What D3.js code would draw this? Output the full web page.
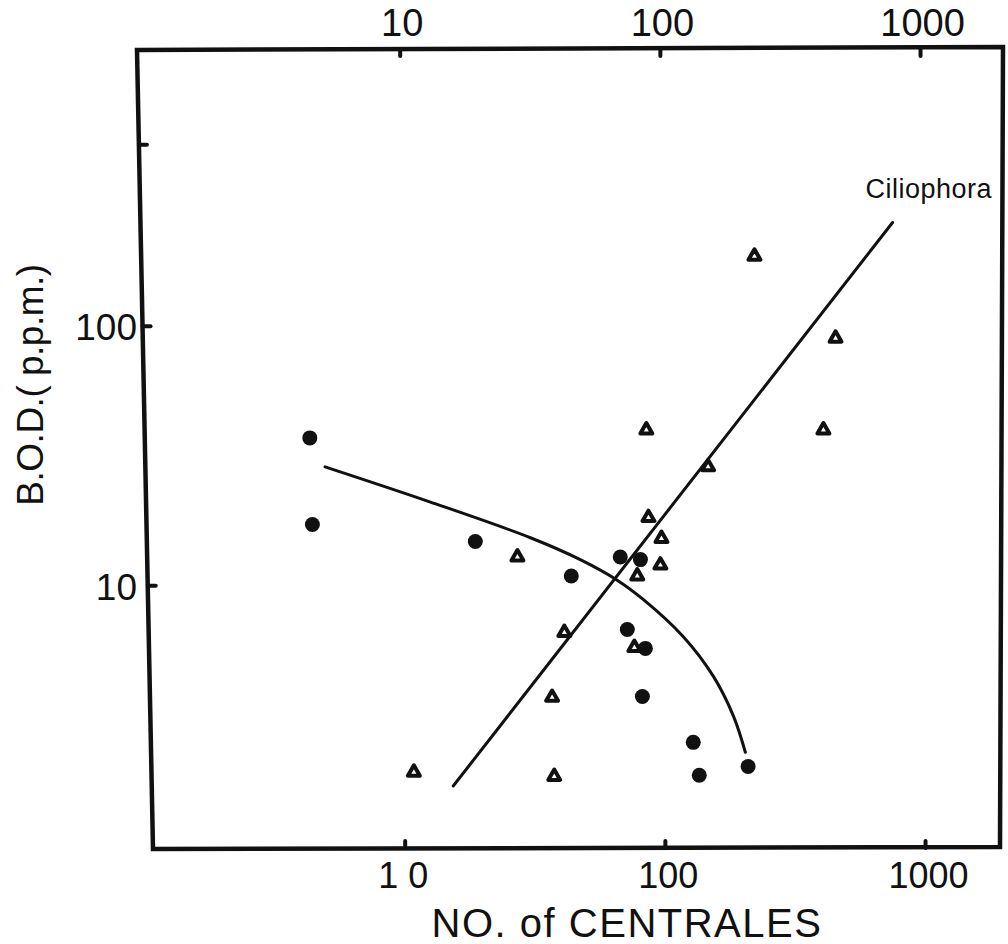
<!DOCTYPE html>
<html>
<head>
<meta charset="utf-8">
<script src="https://cdn.jsdelivr.net/npm/d3@7"></script>
<style>
  html, body { margin: 0; padding: 0; background: #fff; }
  svg text { font-family: "Liberation Sans", Arial, sans-serif; fill: #111; }
</style>
</head>
<body>
<svg id="chart" width="1008" height="944"></svg>
<script>
// Centrales (filled circles): count vs B.O.D.
const centralesCount = [4.3, 4.4, 18.6, 43.5, 67.1, 80.2, 71.4, 83.8, 81.6, 128, 135, 208];
const centralesBOD   = [37.1, 17.2, 14.8, 10.9, 12.9, 12.6, 6.78, 5.73, 3.74, 2.49, 1.86, 2.01];

// Ciliophora (open triangles): count vs B.O.D.
const ciliophoraCount = [220, 451, 405, 84.5, 146, 86.1, 96.6, 95.7, 78.0, 27.0, 40.9, 76.0, 36.7, 10.8, 37.4];
const ciliophoraBOD   = [186, 89.9, 39.8, 39.8, 28.7, 18.3, 15.2, 12.0, 10.9, 12.9, 6.6, 5.78, 3.71, 1.91, 1.84];

// Hand-fitted trend lines
const ciliophoraFitCount = [15.3, 747];
const ciliophoraFitBOD   = [1.69, 251];
const centralesFitCount = [4.92, 12.5, 30.3, 47.1, 65.3, 82.4, 117, 153, 183, 203];
const centralesFitBOD   = [28.7, 21.0, 15.3, 12.6, 10.5, 8.83, 6.37, 4.47, 3.13, 2.28];

// Axis ticks
const xTicks = [10, 100, 1000];
const xTickLabels = ["10", "100", "1000"];
const yTicks = [10, 100, 500];
const yTickLabels = ["10", "100", ""];

const svg = d3.select("#chart");
const ink = "#111";

const x = d3.scaleLog().domain([1, 1950]).range([145, 1001]);
const y = d3.scaleLog().domain([0.975, 1170]).range([848, 49]);

const [xl, xr] = x.range();
const [yb, yt] = y.range();
const lean = 8; // the left edge of the hand-ruled frame leans slightly

// Frame
svg.append("path")
  .attr("d", `M${xl - lean},${yt + 1} L${xr + 2},${yt - 2} L${xr - 1},${yb - 1} L${xl + lean},${yb + 1} Z`)
  .attr("fill", "none").attr("stroke", ink).attr("stroke-width", 4.5)
  .attr("stroke-linejoin", "miter");

// left-edge x at a given pixel height
const leftAt = py => (xl - lean) + (2 * lean) * (py - yt) / (yb - yt);

// Bottom ticks + labels
xTicks.forEach((v, i) => {
  svg.append("line").attr("x1", x(v)).attr("x2", x(v)).attr("y1", yb).attr("y2", yb - 7)
    .attr("stroke", ink).attr("stroke-width", 4).attr("stroke-linecap", "round");
  svg.append("text").attr("x", x(v) + 3).attr("y", 888)
    .attr("text-anchor", "middle").attr("font-size", 36)
    .attr("letter-spacing", v === 10 ? 10 : 0)
    .text(xTickLabels[i]);
});

// Top ticks + labels
xTicks.forEach((v, i) => {
  svg.append("line").attr("x1", x(v) - 5).attr("x2", x(v) - 5).attr("y1", yt).attr("y2", yt + 7)
    .attr("stroke", ink).attr("stroke-width", 4).attr("stroke-linecap", "round");
  svg.append("text").attr("x", x(v) - 3).attr("y", 36)
    .attr("text-anchor", "middle").attr("font-size", 38)
    .text(xTickLabels[i]);
});

// Left ticks + labels
yTicks.forEach((v, i) => {
  const py = y(v), lx = leftAt(py);
  svg.append("line").attr("x1", lx).attr("x2", lx + 8).attr("y1", py).attr("y2", py)
    .attr("stroke", ink).attr("stroke-width", 4).attr("stroke-linecap", "round");
  if (yTickLabels[i]) {
    svg.append("text").attr("x", 137).attr("y", py + 14)
      .attr("text-anchor", "end").attr("font-size", 37)
      .text(yTickLabels[i]);
  }
});

// Axis titles
svg.append("text")
  .attr("transform", "translate(43,385) rotate(-90)")
  .attr("text-anchor", "middle").attr("font-size", 37).attr("letter-spacing", -0.5)
  .text("B.O.D.( p.p.m.)");

svg.append("text").attr("x", 627).attr("y", 937)
  .attr("text-anchor", "middle").attr("font-size", 40).attr("letter-spacing", 1.5)
  .text("NO. of CENTRALES");

// Trend lines
const line = d3.line().x(d => x(d[0])).y(d => y(d[1]));

svg.append("path")
  .datum(ciliophoraFitCount.map((c, i) => [c, ciliophoraFitBOD[i]]))
  .attr("d", line)
  .attr("fill", "none").attr("stroke", ink).attr("stroke-width", 3).attr("stroke-linecap", "round");

svg.append("path")
  .datum(centralesFitCount.map((c, i) => [c, centralesFitBOD[i]]))
  .attr("d", line.curve(d3.curveCatmullRom.alpha(0.5)))
  .attr("fill", "none").attr("stroke", ink).attr("stroke-width", 3).attr("stroke-linecap", "round");

svg.append("text").attr("x", 992).attr("y", 198)
  .attr("text-anchor", "end").attr("font-size", 27).attr("letter-spacing", 0.5)
  .text("Ciliophora");

// Centrales points
svg.append("g").selectAll("circle")
  .data(centralesCount.map((c, i) => [c, centralesBOD[i]]))
  .join("circle")
  .attr("cx", d => x(d[0])).attr("cy", d => y(d[1]))
  .attr("r", 7.5).attr("fill", ink);

// Ciliophora points
const tri = d3.symbol().type(d3.symbolTriangle).size(62);
svg.append("g").selectAll("path")
  .data(ciliophoraCount.map((c, i) => [c, ciliophoraBOD[i]]))
  .join("path")
  .attr("transform", d => `translate(${x(d[0])},${y(d[1])})`)
  .attr("d", tri)
  .attr("fill", "#fff").attr("stroke", ink).attr("stroke-width", 4)
  .attr("stroke-linejoin", "round");
</script>
</body>
</html>
